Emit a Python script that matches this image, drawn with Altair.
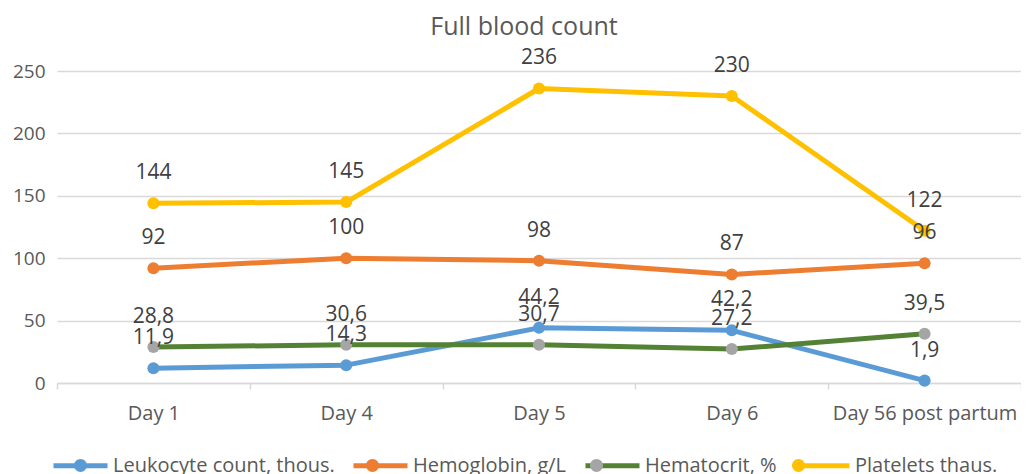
import altair as alt
import pandas as pd

days = ["Day 1", "Day 4", "Day 5", "Day 6", "Day 56 post partum"]
series_names = ["Leukocyte count, thous.", "Hemoglobin, g/L", "Hematocrit, %", "Platelets thaus."]
leukocyte = [11.9, 14.3, 44.2, 42.2, 1.9]
hemoglobin = [92, 100, 98, 87, 96]
hematocrit = [28.8, 30.6, 30.7, 27.2, 39.5]
platelets = [144, 145, 236, 230, 122]
y_ticks = [0, 50, 100, 150, 200, 250]
line_colors = ["#5B9BD5", "#ED7D31", "#548235", "#FFC000"]
marker_colors = ["#5B9BD5", "#ED7D31", "#A5A5A5", "#FFC000"]

rows = []
for name, vals in zip(series_names, [leukocyte, hemoglobin, hematocrit, platelets]):
    for d, v in zip(days, vals):
        rows.append({"day": d, "series": name, "marker": name, "value": v,
                     "label": f"{v:g}".replace(".", ",")})
df = pd.DataFrame(rows)

FONT = "Open Sans"
GRAY = "#595959"
SYM_SIZE = 2916

x = alt.X("day:N", sort=days,
          scale=alt.Scale(type="band", paddingInner=0, paddingOuter=0),
          axis=alt.Axis(title=None, labelAngle=0, tickBand="extent", grid=False,
                        domainColor="#D9D9D9", domainWidth=1.5, tickColor="#D9D9D9",
                        tickWidth=1.5, tickSize=6, labelPadding=14, labelFont=FONT,
                        labelFontSize=20, labelColor=GRAY, labelLimit=400,
                        labelOverlap=False))
y = alt.Y("value:Q", scale=alt.Scale(domain=[0, 250], nice=False),
          axis=alt.Axis(title=None, values=y_ticks, domain=False, ticks=False,
                        labelPadding=12, gridColor="#D9D9D9", gridWidth=1.5,
                        labelFont=FONT, labelFontSize=19, labelColor=GRAY))

legend_common = dict(title=None, orient="none", legendX=-6, legendY=365,
                     direction="horizontal", columns=4, symbolSize=SYM_SIZE,
                     symbolStrokeWidth=5, labelFont=FONT, labelFontSize=20,
                     labelColor=GRAY, labelOffset=3, columnPadding=8, labelLimit=400)

lines = alt.Chart(df).mark_line(strokeWidth=5, strokeCap="round", strokeJoin="round").encode(
    x=x, y=y,
    stroke=alt.Stroke("series:N", sort=series_names,
                      scale=alt.Scale(domain=series_names, range=line_colors),
                      legend=alt.Legend(symbolType="M-1,0H1", zindex=0, **legend_common)),
)

points = alt.Chart(df).mark_circle(size=145, opacity=1).encode(
    x=x, y=y,
    fill=alt.Fill("marker:N", sort=series_names,
                  scale=alt.Scale(range=marker_colors),
                  legend=alt.Legend(symbolType="M0.24,0A0.24,0.24 0 1,1 -0.24,0A0.24,0.24 0 1,1 0.24,0Z",
                                    symbolStrokeColor="transparent", labelOpacity=0,
                                    zindex=1, **legend_common)),
)

labels = alt.Chart(df).mark_text(dy=-30, fontSize=21, font=FONT, color="#404040").encode(
    x=x, y=y, text="label:N"
)

chart = alt.layer(lines, points, labels).properties(
    width=964, height=312,
    padding={"left": 49, "top": 63, "right": 0, "bottom": 91},
    autosize=alt.AutoSizeParams(type="none"),
    title=alt.TitleParams("Full blood count", font=FONT, fontSize=25, fontWeight="normal",
                          color=GRAY, anchor="middle", dx=-15, offset=7),
).configure_view(stroke=None)

chart.save("out.html", embed_options={"renderer": "svg", "actions": False})
